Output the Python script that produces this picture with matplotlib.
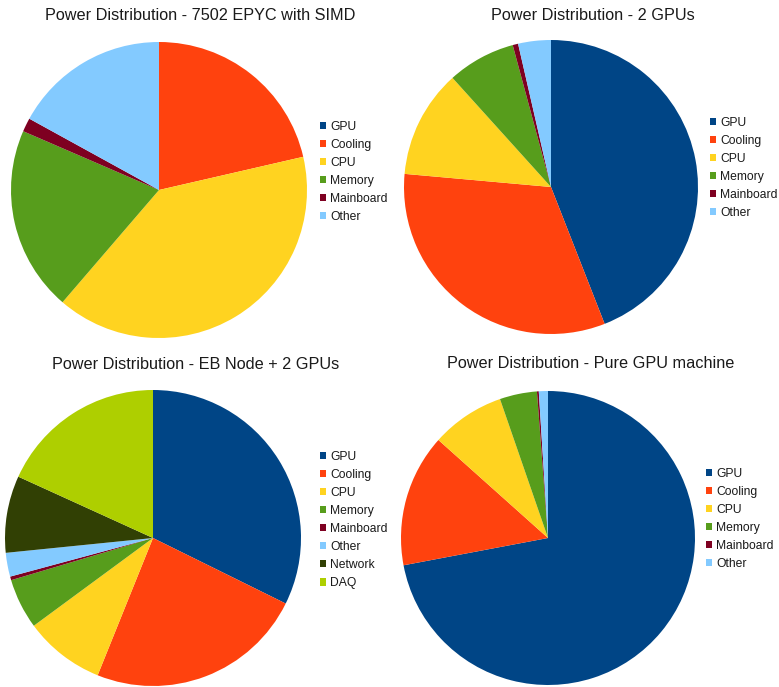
import matplotlib
matplotlib.use("Agg")
import matplotlib.pyplot as plt

plt.rcParams['font.family'] = ['Liberation Sans', 'DejaVu Sans']

W, H = 779, 687

titles = [
    "Power Distribution - 7502 EPYC with SIMD",
    "Power Distribution - 2 GPUs",
    "Power Distribution - EB Node + 2 GPUs",
    "Power Distribution - Pure GPU machine",
]

labels6 = ["GPU", "Cooling", "CPU", "Memory", "Mainboard", "Other"]
labels8 = ["GPU", "Cooling", "CPU", "Memory", "Mainboard", "Other", "Network", "DAQ"]

vals_epyc = [0.0, 21.4, 39.9, 20.2, 1.5, 17.0]
vals_2gpu = [44.1, 32.4, 11.9, 7.5, 0.6, 3.6]
vals_eb = [32.3, 23.8, 8.8, 5.5, 0.4, 2.6, 8.4, 18.2]
vals_pure = [72.1, 14.6, 8.1, 4.1, 0.2, 1.0]

colors = ["#004586", "#ff420e", "#ffd320", "#579d1c", "#7e0021", "#83caff", "#314004", "#aecf00"]

# layout: (center x, center y, radius) in pixels; title (x, y); legend anchor (x, y top)
panels = [
    (vals_epyc, labels6, (159, 190, 148), (200, 16), (320, 121)),
    (vals_2gpu, labels6, (551, 187, 147), (593, 15), (710, 117)),
    (vals_eb, labels8, (153, 538, 148), (196, 364), (320, 451)),
    (vals_pure, labels6, (548, 538, 147), (591, 363), (706, 468)),
]

fig = plt.figure(figsize=(W / 100, H / 100), dpi=100)

for (vals, labs, (cx, cy, r), (tx, ty), (lx, ly)), title in zip(panels, titles):
    ax = fig.add_axes([(cx - r) / W, 1 - (cy + r) / H, 2 * r / W, 2 * r / H])
    wedges, _ = ax.pie(vals, colors=colors[:len(vals)], startangle=90,
                       counterclock=False, radius=1.0,
                       wedgeprops=dict(linewidth=0))
    ax.set_xlim(-1, 1)
    ax.set_ylim(-1, 1)
    ax.set_aspect('equal')
    ax.axis('off')
    fig.text(tx / W, 1 - ty / H, title, ha='center', va='center',
             fontsize=11.7, color='#1a1a1a')
    fig.legend(wedges, labs, loc='upper left',
               bbox_to_anchor=(lx / W, 1 - ly / H),
               frameon=False, fontsize=8.7,
               handlelength=0.52, handleheight=0.52, handletextpad=0.33,
               labelspacing=0.5, borderpad=0, borderaxespad=0,
               labelcolor='#1a1a1a')

fig.savefig("out.png", dpi=100)
